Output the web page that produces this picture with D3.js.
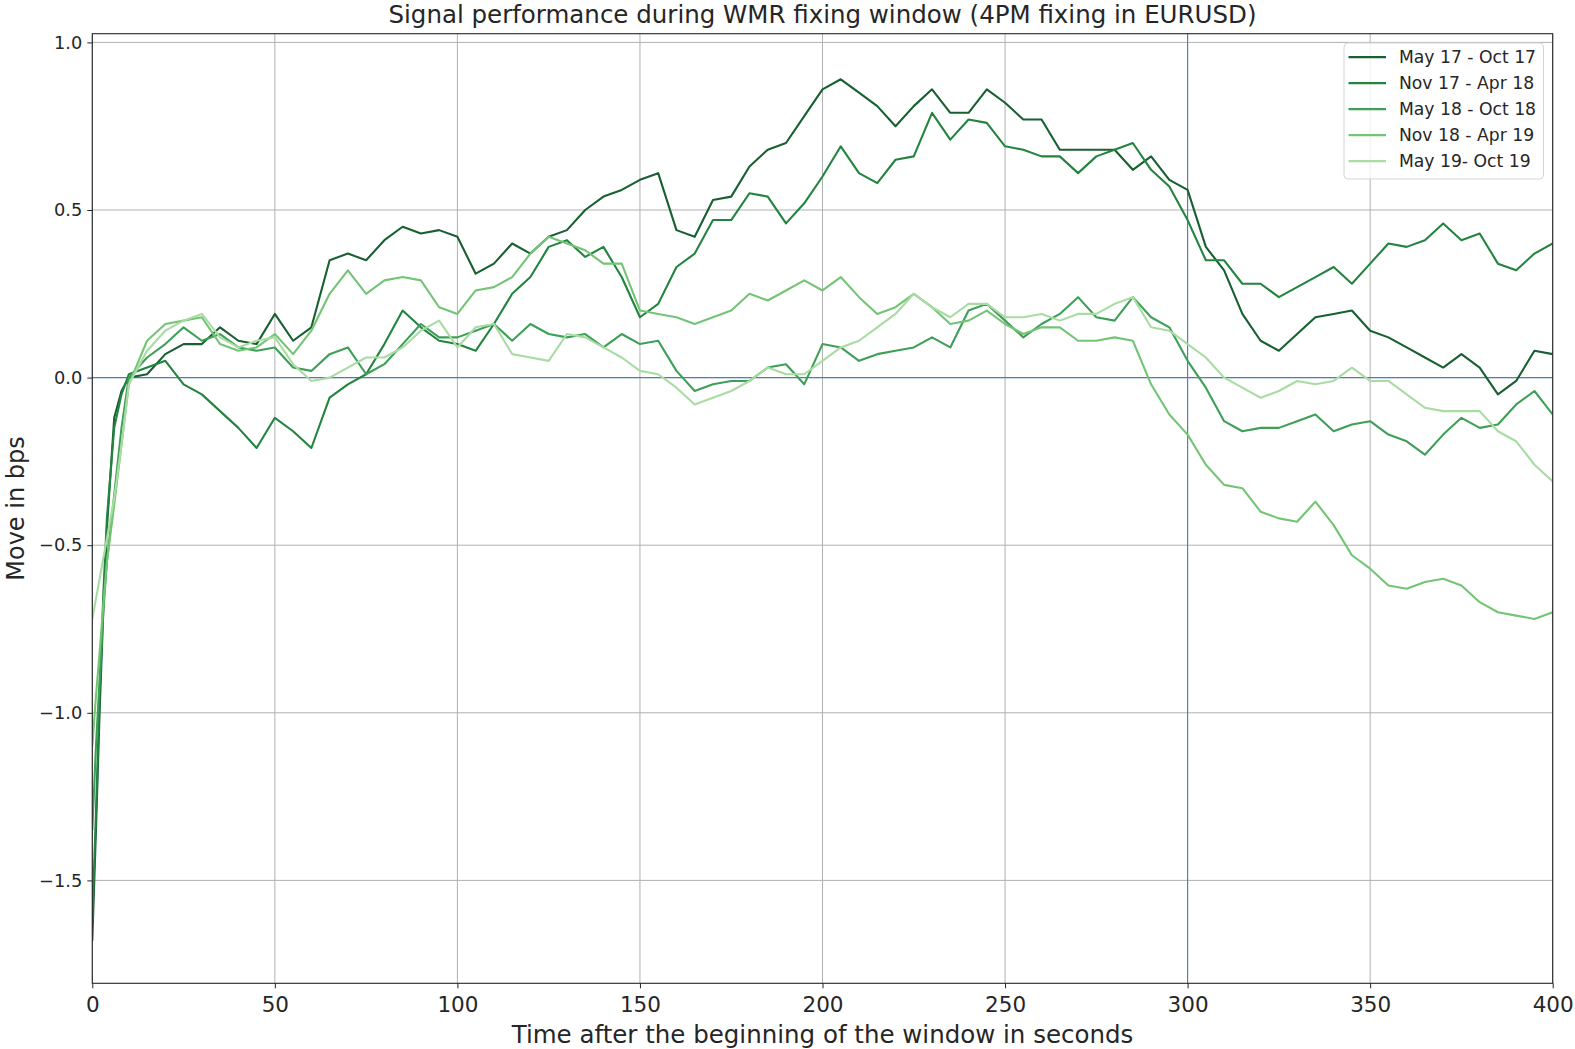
<!DOCTYPE html>
<html>
<head>
<meta charset="utf-8">
<script src="https://cdn.jsdelivr.net/npm/d3@7"></script>
<style>
  body { margin: 0; background: #fff; }
  text { font-family: "DejaVu Sans", sans-serif; fill: #262626; }
</style>
</head>
<body>
<svg id="chart"></svg>
<script>
// seconds after the start of the fixing window
const secs = [0, 1, 2, 3, 4, 6, 8, 10,
  15, 20, 25, 30, 35, 40, 45, 50, 55, 60,
  65, 70, 75, 80, 85, 90, 95, 100, 105, 110,
  115, 120, 125, 130, 135, 140, 145, 150, 155, 160,
  165, 170, 175, 180, 185, 190, 195, 200, 205, 210,
  215, 220, 225, 230, 235, 240, 245, 250, 255, 260,
  265, 270, 275, 280, 285, 290, 295, 300, 305, 310,
  315, 320, 325, 330, 335, 340, 345, 350, 355, 360,
  365, 370, 375, 380, 385, 390, 395, 400];

const may17 = [-1.68, -1.35, -1.0, -0.7, -0.45, -0.12, -0.04, 0.0,
  0.01, 0.07, 0.10, 0.10, 0.15, 0.11, 0.10, 0.19, 0.11, 0.15,
  0.35, 0.37, 0.35, 0.41, 0.45, 0.43, 0.44, 0.42, 0.31, 0.34,
  0.40, 0.37, 0.42, 0.44, 0.50, 0.54, 0.56, 0.59, 0.61, 0.44,
  0.42, 0.53, 0.54, 0.63, 0.68, 0.70, 0.78, 0.86, 0.89, 0.85,
  0.81, 0.75, 0.81, 0.86, 0.79, 0.79, 0.86, 0.82, 0.77, 0.77,
  0.68, 0.68, 0.68, 0.68, 0.62, 0.66, 0.59, 0.56, 0.39, 0.32,
  0.19, 0.11, 0.08, 0.13, 0.18, 0.19, 0.20, 0.14, 0.12, 0.09,
  0.06, 0.03, 0.07, 0.03, -0.05, -0.01, 0.08, 0.07];

const nov17 = [-1.62, -1.3, -0.95, -0.65, -0.42, -0.15, -0.05, 0.01,
  0.03, 0.05, -0.02, -0.05, -0.10, -0.15, -0.21, -0.12, -0.16, -0.21,
  -0.06, -0.02, 0.01, 0.10, 0.20, 0.15, 0.11, 0.10, 0.08, 0.16,
  0.25, 0.30, 0.39, 0.41, 0.36, 0.39, 0.30, 0.18, 0.22, 0.33,
  0.37, 0.47, 0.47, 0.55, 0.54, 0.46, 0.52, 0.60, 0.69, 0.61,
  0.58, 0.65, 0.66, 0.79, 0.71, 0.77, 0.76, 0.69, 0.68, 0.66,
  0.66, 0.61, 0.66, 0.68, 0.70, 0.62, 0.57, 0.47, 0.35, 0.35,
  0.28, 0.28, 0.24, 0.27, 0.30, 0.33, 0.28, 0.34, 0.40, 0.39,
  0.41, 0.46, 0.41, 0.43, 0.34, 0.32, 0.37, 0.40];

const may18 = [-1.35, -1.1, -0.9, -0.7, -0.55, -0.35, -0.15, 0.0,
  0.06, 0.10, 0.15, 0.11, 0.13, 0.09, 0.08, 0.09, 0.03, 0.02,
  0.07, 0.09, 0.01, 0.04, 0.10, 0.16, 0.12, 0.12, 0.14, 0.16,
  0.11, 0.16, 0.13, 0.12, 0.13, 0.09, 0.13, 0.10, 0.11, 0.02,
  -0.04, -0.02, -0.01, -0.01, 0.03, 0.04, -0.02, 0.10, 0.09, 0.05,
  0.07, 0.08, 0.09, 0.12, 0.09, 0.20, 0.22, 0.17, 0.12, 0.16,
  0.19, 0.24, 0.18, 0.17, 0.24, 0.18, 0.15, 0.05, -0.03, -0.13,
  -0.16, -0.15, -0.15, -0.13, -0.11, -0.16, -0.14, -0.13, -0.17, -0.19,
  -0.23, -0.17, -0.12, -0.15, -0.14, -0.08, -0.04, -0.11];

const nov18 = [-1.1, -0.95, -0.82, -0.68, -0.55, -0.38, -0.2, -0.02,
  0.11, 0.16, 0.17, 0.18, 0.10, 0.08, 0.09, 0.13, 0.07, 0.14,
  0.25, 0.32, 0.25, 0.29, 0.30, 0.29, 0.21, 0.19, 0.26, 0.27,
  0.30, 0.37, 0.42, 0.40, 0.38, 0.34, 0.34, 0.20, 0.19, 0.18,
  0.16, 0.18, 0.20, 0.25, 0.23, 0.26, 0.29, 0.26, 0.30, 0.24,
  0.19, 0.21, 0.25, 0.21, 0.16, 0.17, 0.20, 0.16, 0.13, 0.15,
  0.15, 0.11, 0.11, 0.12, 0.11, -0.02, -0.11, -0.17, -0.26, -0.32,
  -0.33, -0.40, -0.42, -0.43, -0.37, -0.44, -0.53, -0.57, -0.62, -0.63,
  -0.61, -0.60, -0.62, -0.67, -0.70, -0.71, -0.72, -0.70];

const may19 = [-0.72, -0.66, -0.6, -0.54, -0.48, -0.36, -0.2, -0.02,
  0.08, 0.14, 0.17, 0.19, 0.12, 0.09, 0.11, 0.12, 0.04, -0.01,
  0.00, 0.03, 0.06, 0.06, 0.09, 0.14, 0.17, 0.09, 0.15, 0.16,
  0.07, 0.06, 0.05, 0.13, 0.12, 0.09, 0.06, 0.02, 0.01, -0.03,
  -0.08, -0.06, -0.04, -0.01, 0.03, 0.01, 0.01, 0.05, 0.09, 0.11,
  0.15, 0.19, 0.25, 0.21, 0.18, 0.22, 0.22, 0.18, 0.18, 0.19,
  0.17, 0.19, 0.19, 0.22, 0.24, 0.15, 0.14, 0.10, 0.06, 0.00,
  -0.03, -0.06, -0.04, -0.01, -0.02, -0.01, 0.03, -0.01, -0.01, -0.05,
  -0.09, -0.10, -0.10, -0.10, -0.16, -0.19, -0.26, -0.31];

const seriesNames = ["May 17 - Oct 17", "Nov 17 - Apr 18", "May 18 - Oct 18", "Nov 18 - Apr 19", "May 19- Oct 19"];
const seriesValues = [may17, nov17, may18, nov18, may19];
const seriesColors = ["#185f32", "#23843f", "#3d9f58", "#74c476", "#a8dca2"];

const xTicks = [0, 50, 100, 150, 200, 250, 300, 350, 400];
const yTicks = [-1.5, -1.0, -0.5, 0.0, 0.5, 1.0];
const fixingSec = 300;

// layout
const width = 1575, height = 1049;
const plotLeft = 92.3, plotRight = 1552.7, plotTop = 33.7, plotBottom = 983.3;

const svg = d3.select("#chart").attr("width", width).attr("height", height);

const x = d3.scaleLinear().domain([0, 400]).range([plotLeft, plotRight]);
const y = d3.scaleLinear().domain([-1.807, 1.026]).range([plotBottom, plotTop]);

// grid
const grid = svg.append("g").attr("stroke", "#b0b0b0").attr("stroke-width", 1);
grid.selectAll(".gx").data(xTicks).join("line")
  .attr("x1", d => x(d)).attr("x2", d => x(d))
  .attr("y1", plotTop).attr("y2", plotBottom);
grid.selectAll(".gy").data(yTicks).join("line")
  .attr("x1", plotLeft).attr("x2", plotRight)
  .attr("y1", d => y(d)).attr("y2", d => y(d));

// reference lines: zero move and the fixing moment
svg.append("line")
  .attr("x1", plotLeft).attr("x2", plotRight).attr("y1", y(0)).attr("y2", y(0))
  .attr("stroke", "#4a80b8").attr("stroke-width", 1.1);
svg.append("line")
  .attr("x1", x(fixingSec)).attr("x2", x(fixingSec)).attr("y1", plotTop).attr("y2", plotBottom)
  .attr("stroke", "#4a80b8").attr("stroke-width", 1.1);

// series
const line = d3.line().x(d => x(d[0])).y(d => y(d[1]));
svg.append("defs").append("clipPath").attr("id", "plot")
  .append("rect").attr("x", plotLeft).attr("y", plotTop)
  .attr("width", plotRight - plotLeft).attr("height", plotBottom - plotTop);

svg.append("g").attr("clip-path", "url(#plot)")
  .selectAll("path")
  .data(seriesValues)
  .join("path")
  .attr("fill", "none")
  .attr("stroke", (d, i) => seriesColors[i])
  .attr("stroke-width", 2.1)
  .attr("stroke-linejoin", "round")
  .attr("d", vals => line(d3.zip(secs, vals)));

// axes
const xAxis = svg.append("g")
  .attr("transform", `translate(0,${plotBottom})`)
  .call(d3.axisBottom(x).tickValues(xTicks).tickFormat(d3.format("d")).tickSize(5).tickSizeOuter(0).tickPadding(8));
xAxis.selectAll("text").style("font-size", "21.5px").attr("fill", "#262626");

const yAxis = svg.append("g")
  .attr("transform", `translate(${plotLeft},0)`)
  .call(d3.axisLeft(y).tickValues(yTicks).tickFormat(d => d.toFixed(1).replace("-", "\u2212")).tickSize(5).tickSizeOuter(0).tickPadding(5));
yAxis.selectAll("text").style("font-size", "17.8px").attr("fill", "#262626");

[xAxis, yAxis].forEach(a => {
  a.select(".domain").remove();
  a.selectAll(".tick line").attr("stroke", "#262626").attr("stroke-width", 1);
});

// frame
svg.append("rect")
  .attr("x", plotLeft).attr("y", plotTop)
  .attr("width", plotRight - plotLeft).attr("height", plotBottom - plotTop)
  .attr("fill", "none").attr("stroke", "#262626").attr("stroke-width", 1.1);

// titles
svg.append("text")
  .attr("x", (plotLeft + plotRight) / 2).attr("y", 22.5)
  .attr("text-anchor", "middle").style("font-size", "24.5px")
  .text("Signal performance during WMR fixing window (4PM fixing in EURUSD)");

svg.append("text")
  .attr("x", (plotLeft + plotRight) / 2).attr("y", 1043)
  .attr("text-anchor", "middle").style("font-size", "24.5px")
  .text("Time after the beginning of the window in seconds");

svg.append("text")
  .attr("transform", `translate(24,${(plotTop + plotBottom) / 2}) rotate(-90)`)
  .attr("text-anchor", "middle").style("font-size", "24px")
  .text("Move in bps");

// legend
const legend = svg.append("g").attr("transform", "translate(1344,43)");
legend.append("rect")
  .attr("width", 199.5).attr("height", 136).attr("rx", 4)
  .attr("fill", "#fff").attr("fill-opacity", 0.8)
  .attr("stroke", "#d5d5d5").attr("stroke-width", 1);

const item = legend.selectAll(".item").data(seriesNames).join("g")
  .attr("transform", (d, i) => `translate(0,${14.2 + i * 26})`);
item.append("line")
  .attr("x1", 4.5).attr("x2", 42)
  .attr("stroke", (d, i) => seriesColors[i]).attr("stroke-width", 2.3);
item.append("text")
  .attr("x", 55).attr("dy", "0.36em")
  .style("font-size", "17.2px")
  .text(d => d);
</script>
</body>
</html>
